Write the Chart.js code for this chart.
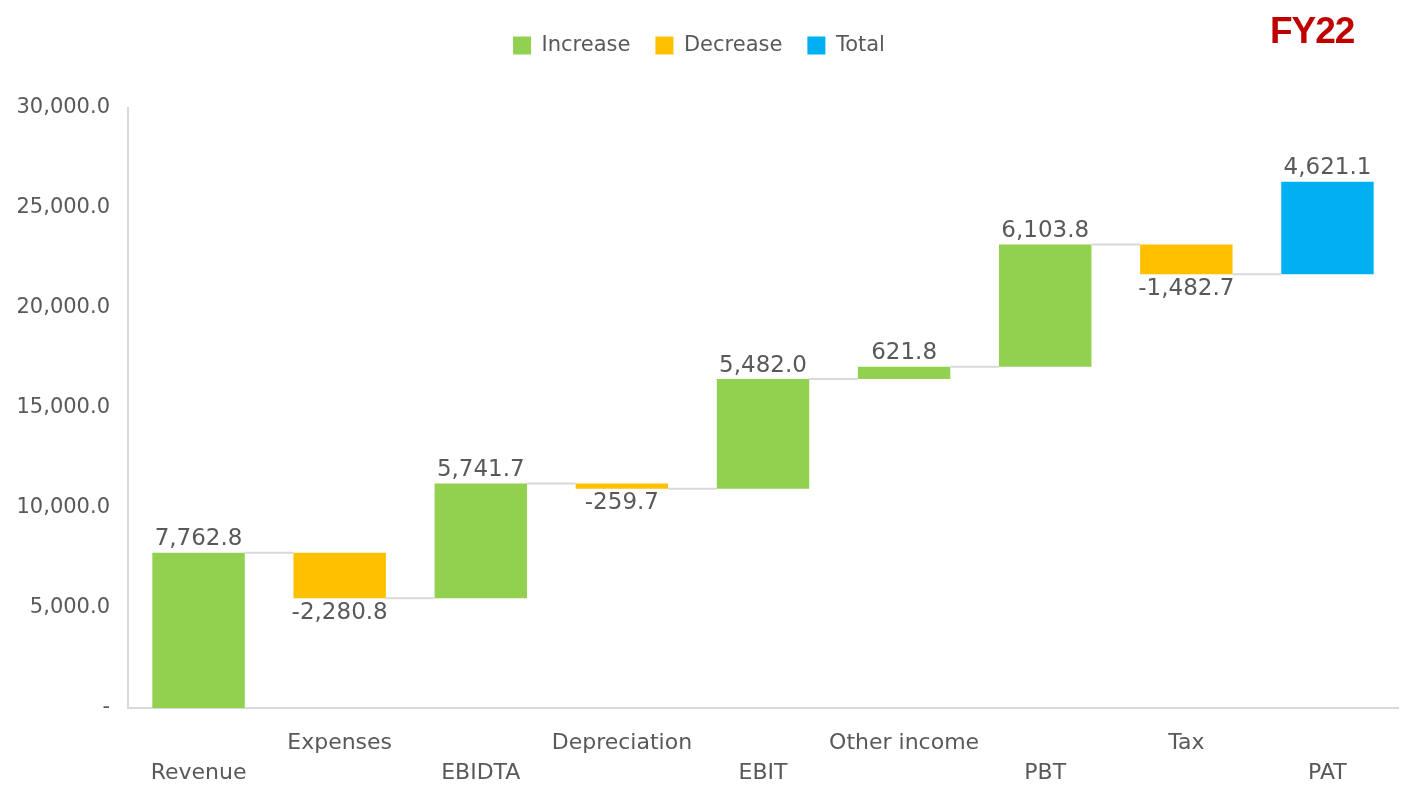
<!DOCTYPE html>
<html>
<head>
<meta charset="utf-8">
<script src="https://cdn.jsdelivr.net/npm/chart.js@4/dist/chart.umd.min.js"></script>
<style>
  html, body { margin: 0; padding: 0; background: #fff; }
  #wrap { position: relative; width: 1408px; height: 785px; }
  #fy { position: absolute; left: 1270px; top: 10px; font: bold 37px "Liberation Sans", Arial, sans-serif; color: #C00000; letter-spacing: -1px; }
</style>
</head>
<body>
<div id="wrap">
  <canvas id="chart" width="1408" height="785"></canvas>
  <div id="fy">FY22</div>
</div>
<script>
// === Data ===
const categories = ["Revenue", "Expenses", "EBIDTA", "Depreciation", "EBIT", "Other income", "PBT", "Tax", "PAT"];
const changes = [7762.8, -2280.8, 5741.7, -259.7, 5482.0, 621.8, 6103.8, -1482.7, 4621.1];
const kinds = ["increase", "decrease", "increase", "decrease", "increase", "increase", "increase", "decrease", "total"];
const yMin = 0;
const yMax = 30000;
const yStep = 5000;

const COLORS = { increase: "#92D050", decrease: "#FFC000", total: "#00B0F0" };
const TEXT = "#595959";
const FONT = "'DejaVu Sans', Verdana, sans-serif";

// running floats for the waterfall
const floats = [];
let level = 0;
changes.forEach((c) => {
  floats.push([level, level + c]);
  level += c;
});

function seriesFor(kind) {
  return floats.map((f, i) => (kinds[i] === kind ? f : null));
}

// staggered category labels
const labels = categories.map((c, i) => (i % 2 === 0 ? ["", c] : [c, ""]));

function fmt(v) {
  return v.toLocaleString("en-US", { minimumFractionDigits: 1, maximumFractionDigits: 1 });
}

// extra space under the legend
const legendGap = {
  id: "legendGap",
  beforeInit(chart) {
    const fit = chart.legend.fit;
    chart.legend.fit = function () {
      fit.call(this);
      this.height += 42;
    };
  }
};

// =========================
// connectors + value labels
// =========================
const waterfallExtras = {
  id: "waterfallExtras",
  afterDatasetsDraw(chart) {
    const ctx = chart.ctx;
    const y = chart.scales.y;
    const bars = [];
    chart.data.datasets.forEach((ds, di) => {
      chart.getDatasetMeta(di).data.forEach((el, i) => {
        if (ds.data[i] !== null) bars[i] = el;
      });
    });

    ctx.save();
    ctx.strokeStyle = "#D9D9D9";
    ctx.lineWidth = 2;
    for (let i = 0; i < bars.length - 1; i++) {
      const py = y.getPixelForValue(floats[i][1]);
      ctx.beginPath();
      ctx.moveTo(bars[i].x + bars[i].width / 2, py);
      ctx.lineTo(bars[i + 1].x - bars[i + 1].width / 2, py);
      ctx.stroke();
    }

    ctx.fillStyle = TEXT;
    ctx.font = "23px " + FONT;
    ctx.textAlign = "center";
    bars.forEach((el, i) => {
      if (changes[i] >= 0) {
        ctx.textBaseline = "bottom";
        ctx.fillText(fmt(changes[i]), el.x, y.getPixelForValue(floats[i][1]) - 2);
      } else {
        ctx.textBaseline = "top";
        ctx.fillText(fmt(changes[i]), el.x, y.getPixelForValue(floats[i][1]) + 3);
      }
    });
    ctx.restore();
  }
};

const barStyle = { barPercentage: 0.655, categoryPercentage: 1, grouped: false, borderWidth: 0 };

new Chart(document.getElementById("chart"), {
  type: "bar",
  data: {
    labels,
    datasets: [
      { label: "Increase", data: seriesFor("increase"), backgroundColor: COLORS.increase, ...barStyle },
      { label: "Decrease", data: seriesFor("decrease"), backgroundColor: COLORS.decrease, ...barStyle },
      { label: "Total", data: seriesFor("total"), backgroundColor: COLORS.total, ...barStyle }
    ]
  },
  options: {
    responsive: false,
    animation: false,
    layout: { padding: { top: 10, right: 10, left: 0, bottom: 0 } },
    plugins: {
      legend: {
        position: "top",
        labels: {
          color: TEXT,
          font: { family: FONT, size: 21 },
          boxWidth: 18,
          boxHeight: 18,
          padding: 25,
          useBorderRadius: false
        }
      },
      tooltip: { enabled: false }
    },
    scales: {
      x: {
        grid: { display: false, drawTicks: false },
        border: { color: "#D9D9D9", width: 2 },
        afterFit(scale) { scale.height = 77; },
        ticks: {
          color: TEXT,
          font: { family: FONT, size: 22, lineHeight: 1.36 },
          maxRotation: 0,
          autoSkip: false,
          padding: 20
        }
      },
      y: {
        min: yMin,
        max: yMax,
        grid: { display: false, drawTicks: false },
        border: { color: "#D9D9D9", width: 2 },
        afterFit(scale) { scale.width = 128; },
        ticks: {
          stepSize: yStep,
          color: TEXT,
          font: { family: FONT, size: 21 },
          padding: 18,
          callback: (v) => (v === 0 ? "-" : fmt(v))
        }
      }
    }
  },
  plugins: [legendGap, waterfallExtras]
});
</script>
</body>
</html>
